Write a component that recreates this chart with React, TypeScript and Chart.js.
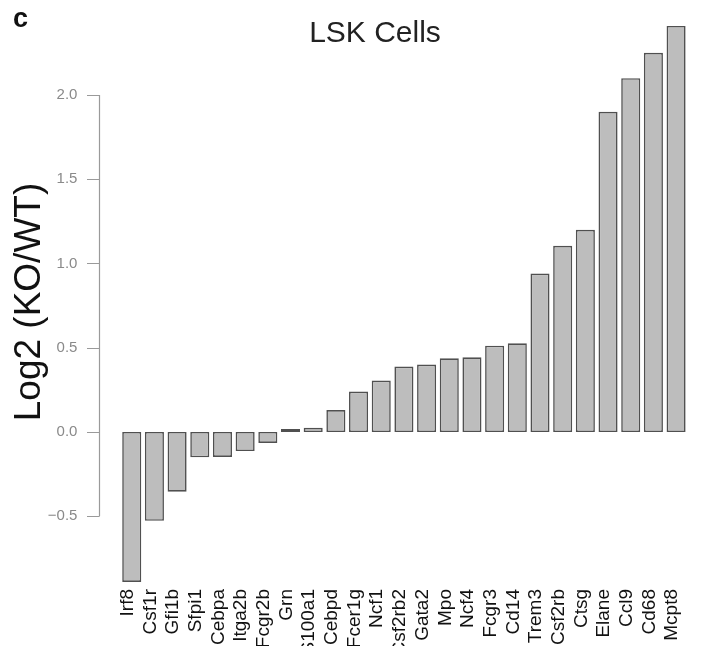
import React, { useEffect, useRef } from "react";
import { Chart, registerables } from "chart.js";

Chart.register(...registerables);

const genes = [
  "Irf8", "Csf1r", "Gfi1b", "Sfpi1", "Cebpa", "Itga2b", "Fcgr2b", "Grn", "S100a1",
  "Cebpd", "Fcer1g", "Ncf1", "Csf2rb2", "Gata2", "Mpo", "Ncf4", "Fcgr3", "Cd14",
  "Trem3", "Csf2rb", "Ctsg", "Elane", "Ccl9", "Cd68", "Mcpt8",
];
const log2Ratio = [
  -0.89, -0.527, -0.354, -0.15, -0.148, -0.113, -0.065, 0.018, 0.025,
  0.13, 0.24, 0.305, 0.388, 0.4, 0.437, 0.443, 0.512, 0.526,
  0.94, 1.105, 1.2, 1.9, 2.1, 2.25, 2.41,
];
const yTickValues = [-0.5, 0, 0.5, 1.0, 1.5, 2.0];
const chartTitle = "LSK Cells";
const panelLetter = "c";
const yAxisTitle = "Log2 (KO/WT)";

const FONT = "'Liberation Sans', Arial, Helvetica, sans-serif";

const decorPlugin = {
  id: "decor",
  afterDraw(chart: any) {
    const ctx = chart.ctx;
    const y = chart.scales.y;
    ctx.save();
    // axis line spanning the tick range (R style)
    const axisX = 99.5;
    const yTop = y.getPixelForValue(yTickValues[yTickValues.length - 1]);
    const yBot = y.getPixelForValue(yTickValues[0]);
    ctx.strokeStyle = "#9a9a9a";
    ctx.lineWidth = 1.2;
    ctx.beginPath();
    ctx.moveTo(axisX, yTop);
    ctx.lineTo(axisX, yBot);
    for (const v of yTickValues) {
      const py = Math.round(y.getPixelForValue(v)) + 0.5;
      ctx.moveTo(87, py);
      ctx.lineTo(axisX, py);
    }
    ctx.stroke();
    // title
    ctx.fillStyle = "#222";
    ctx.font = `30px ${FONT}`;
    ctx.textAlign = "center";
    ctx.textBaseline = "alphabetic";
    ctx.fillText(chartTitle, 375, 42);
    // panel letter
    ctx.font = `bold 27px ${FONT}`;
    ctx.textAlign = "left";
    ctx.fillStyle = "#111";
    ctx.fillText(panelLetter, 13, 27);
    ctx.restore();
  },
};

export default function App() {
  const ref = useRef<HTMLCanvasElement>(null);
  useEffect(() => {
    if (!ref.current) return;
    const chart = new Chart(ref.current, {
      type: "bar",
      data: {
        labels: genes,
        datasets: [
          {
            data: log2Ratio,
            backgroundColor: "#bdbdbd",
            borderColor: "#505050",
            borderWidth: 1.6,
            borderSkipped: false,
            barPercentage: 0.84,
            categoryPercentage: 1,
          },
        ],
      },
      options: {
        animation: false,
        responsive: false,
        devicePixelRatio: 1,
        layout: { padding: { top: 20, right: 5.5, left: 0, bottom: 0 } },
        plugins: {
          legend: { display: false },
          tooltip: { enabled: false },
          title: { display: false },
        },
        scales: {
          x: {
            grid: { display: false, drawTicks: false },
            border: { display: false },
            ticks: {
              autoSkip: false,
              minRotation: 90,
              maxRotation: 90,
              padding: 5,
              labelOffset: -4,
              color: "#111",
              font: { family: FONT, size: 19 },
            },
            afterFit: (s: any) => {
              s.height = 62;
            },
          },
          y: {
            min: -0.9021,
            max: 2.4451,
            grid: { display: false, drawTicks: true, tickLength: 40 },
            border: { display: false },
            ticks: {
              stepSize: 0.5,
              includeBounds: false,
              padding: 3,
              color: "#8a8a8a",
              font: { family: FONT, size: 15 },
              callback: (v: any) => {
                const n = Number(v);
                const s = Math.abs(n).toFixed(1);
                return n < 0 ? "\u2212" + s : s;
              },
            },
            title: {
              display: true,
              text: yAxisTitle,
              color: "#111",
              font: { family: FONT, size: 37 },
              padding: { top: 8, bottom: 0 },
            },
            afterFit: (s: any) => {
              s.width = 120.4;
            },
          },
        },
      },
      plugins: [decorPlugin],
    } as any);
    return () => chart.destroy();
  }, []);
  return (
    <canvas
      ref={ref}
      width={704}
      height={646}
      style={{ position: "absolute", left: 0, top: 0, display: "block" }}
    />
  );
}
